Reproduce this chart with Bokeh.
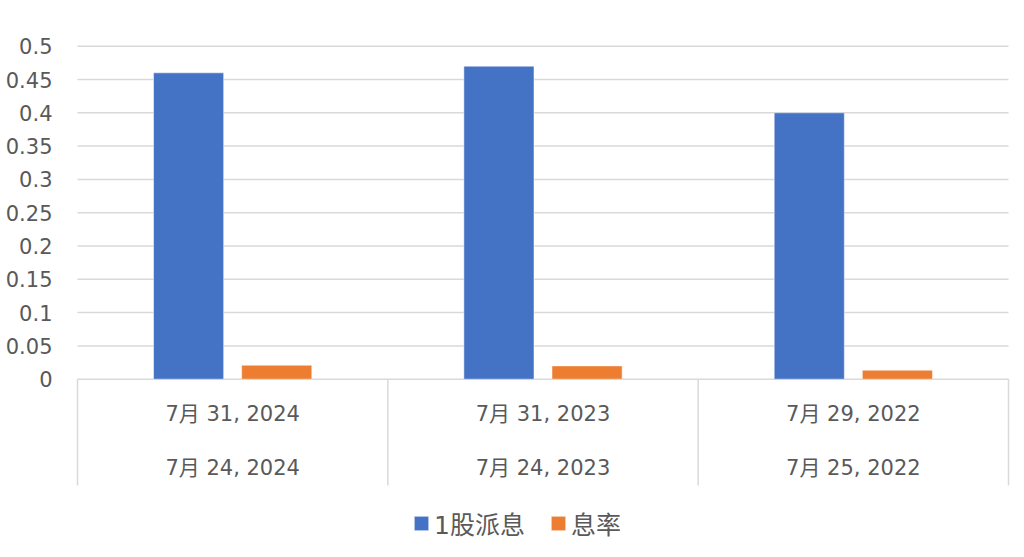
from bokeh.plotting import figure
from bokeh.models import Range1d, FixedTicker, Legend, LegendItem, ColumnDataSource
from bokeh.core.properties import value
from bokeh.embed import file_html
from bokeh.resources import INLINE

# ---- data ----
row1_labels = ["7月 31, 2024", "7月 31, 2023", "7月 29, 2022"]
row2_labels = ["7月 24, 2024", "7月 24, 2023", "7月 25, 2022"]
dividend = [0.46, 0.47, 0.40]
yield_rate = [0.021, 0.020, 0.0135]
series_names = ["1股派息", "息率"]
y_ticks = [0, 0.05, 0.1, 0.15, 0.2, 0.25, 0.3, 0.35, 0.4, 0.45, 0.5]
y_tick_labels = ["0", "0.05", "0.1", "0.15", "0.2", "0.25", "0.3", "0.35", "0.4", "0.45", "0.5"]

# ---- layout constants (canvas pixels) ----
W, H = 1024, 557
LEFT = 74          # frame left edge
X0, X3 = 77, 1008  # canvas x of category start / end
Y0 = 378.7         # canvas y of value 0
PPU_Y = 666.0      # pixels per value unit
n = len(row1_labels)
ppu_x = (X3 - X0) / n

x_start = -(X0 - LEFT) / ppu_x
x_end = n + (W - X3) / ppu_x
y_end = Y0 / PPU_Y
y_start = -(H - Y0) / PPU_Y

FONT = "DejaVu Sans, Noto Sans CJK SC"
TXT = "#595959"
GRID = "#d9d9d9"
BLUE = "#4472C4"
ORANGE = "#ED7D31"

p = figure(width=W, height=H, x_range=Range1d(x_start, x_end), y_range=Range1d(y_start, y_end),
           output_backend="svg", toolbar_location=None, x_axis_location=None,
           min_border_left=LEFT, min_border_right=0, min_border_top=0, min_border_bottom=0)
p.grid.visible = False
p.outline_line_color = None
p.background_fill_color = "white"
p.border_fill_color = "white"

ax = p.yaxis[0]
ax.ticker = FixedTicker(ticks=y_ticks)
ax.major_label_overrides = dict(zip(y_ticks, y_tick_labels))
ax.axis_line_color = None
ax.major_tick_line_color = None
ax.minor_tick_line_color = None
ax.major_tick_out = 0
ax.major_tick_in = 0
ax.major_label_standoff = 22
ax.major_label_text_font_size = "21px"
ax.major_label_text_font = FONT
ax.major_label_text_color = TXT

# gridlines (including axis line at 0)
p.segment(x0=[0] * len(y_ticks), x1=[n] * len(y_ticks), y0=y_ticks, y1=y_ticks,
          line_color=GRID, line_width=1.5)

# category frame lines
row_bottom = -(485 - Y0) / PPU_Y
p.segment(x0=list(range(n + 1)), x1=list(range(n + 1)), y0=[0] * (n + 1), y1=[row_bottom] * (n + 1),
          line_color=GRID, line_width=1.5)

# bars
BW = 0.226
OFF = 0.142
xs = [i + 0.5 for i in range(n)]
src = ColumnDataSource(dict(xb=[x - OFF for x in xs], xo=[x + OFF for x in xs],
                            div=dividend, yr=yield_rate))
r1 = p.vbar(x="xb", top="div", bottom=0, width=BW, source=src, fill_color=BLUE,
            line_color="white", line_alpha=0.5, line_width=1)
r2 = p.vbar(x="xo", top="yr", bottom=0, width=BW, source=src, fill_color=ORANGE,
            line_color="white", line_alpha=0.5, line_width=1)

# category labels
row1_y = -(413 - Y0) / PPU_Y
row2_y = -(467 - Y0) / PPU_Y
p.text(x=xs, y=[row1_y] * n, text=row1_labels, text_align="center", text_baseline="middle",
       text_font=value(FONT), text_font_size="21px", text_color=TXT)
p.text(x=xs, y=[row2_y] * n, text=row2_labels, text_align="center", text_baseline="middle",
       text_font=value(FONT), text_font_size="21px", text_color=TXT)

legend = Legend(items=[LegendItem(label=series_names[0], renderers=[r1]),
                       LegendItem(label=series_names[1], renderers=[r2])],
                orientation="horizontal", location=(338, 16),
                label_text_font_size="25px", label_text_font=FONT, label_text_color=TXT,
                glyph_width=18, glyph_height=18, label_standoff=4, spacing=24,
                padding=0, margin=0, border_line_color=None, background_fill_alpha=0)
p.add_layout(legend)

open("out.html", "w").write(file_html(p, INLINE))
